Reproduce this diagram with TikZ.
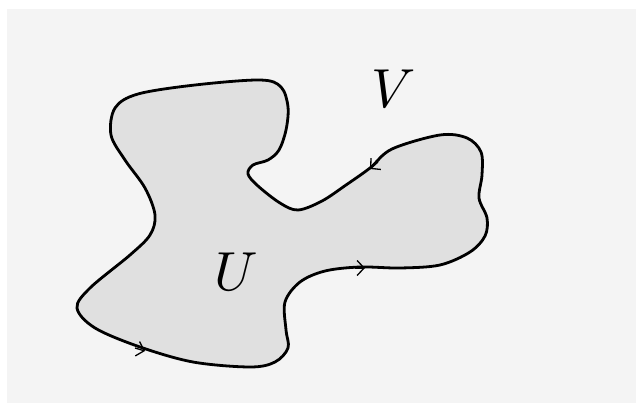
\documentclass[tikz,border=0pt]{standalone}
\usetikzlibrary{arrows.meta,calc}
\definecolor{bgc}{HTML}{F4F4F4}
\definecolor{regc}{HTML}{E0E0E0}
\tikzset{
  region/.style={draw=black, fill=regc, line width=2.8pt},
  orient/.style={line width=1.3pt, -{Straight Barb[length=7pt,width=15pt]}},
  lbl/.style={scale=5.5, inner sep=0pt}
}
\begin{document}
\begin{tikzpicture}[x=1pt,y=-1pt]
\useasboundingbox (0,0) rectangle (636,403);
\fill[bgc] (7,9) rectangle (636,403);
\draw[region] plot[smooth cycle, tension=0.55] coordinates {
 (260,80) (281,87) (288,107) (286,130) (279,150) (268,160) (253,165) (248,174)
 (258,186) (280,203) (298,210) (322,201) (346,185) (370,168) (392,149) (440,135)
 (467,138) (481,152) (482,175) (479,198) (487,218) (485,236) (470,252) (440,265)
 (400,268) (360,267) (325,271) (300,282) (285,302) (286,330) (288,348) (275,362)
 (250,367) (193,362) (140,347) (95,328) (77,308) (90,288) (130,255) (150,235)
 (155,215) (145,188) (125,160) (111,135) (115,108) (138,94) (195,85)
};
\coordinate (a1) at (370,169);
\coordinate (a2) at (365,268);
\coordinate (a3) at (145,351);
\draw[orient] ($(a1)+(8,-7)$) -- (a1);
\draw[orient] ($(a2)+(-10,0)$) -- (a2);
\draw[orient] ($(a3)+(-10,-3)$) -- (a3);
\node[lbl] (U) at (236,272) {$U$};
\node[lbl] (V) at (394,89) {$V$};
\end{tikzpicture}
\end{document}
